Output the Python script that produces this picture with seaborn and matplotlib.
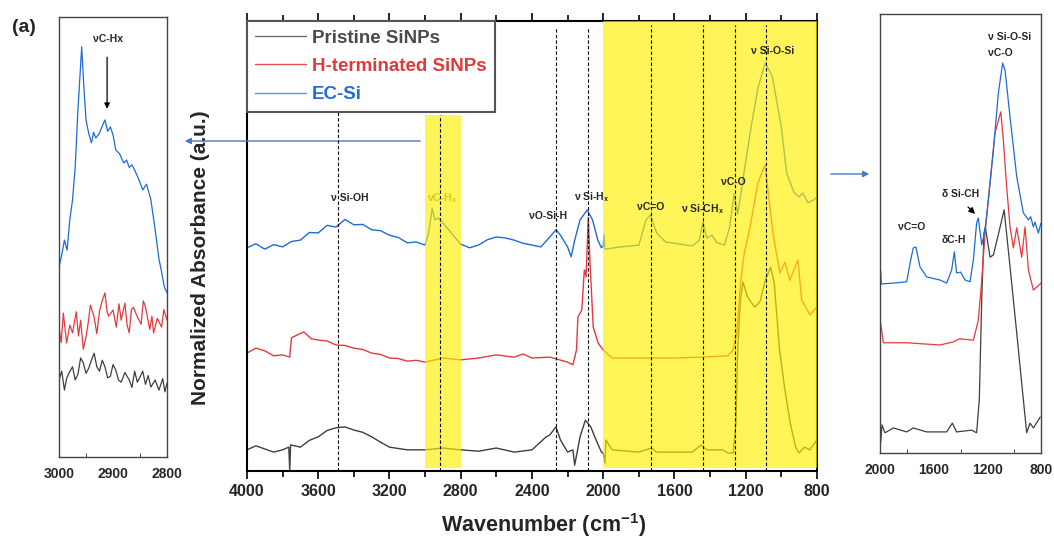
import pandas as pd
import numpy as np
import matplotlib.pyplot as plt
import seaborn as sns
from matplotlib.lines import Line2D
from matplotlib.ticker import MultipleLocator

# ---------------- data (arbitrary units) ----------------
samples = ["Pristine SiNPs", "H-terminated SiNPs", "EC-Si"]
line_colors = ["#3f3f3f", "#e8383d", "#1c6bdc"]
legend_line_colors = ["#6e6e6e", "#e05050", "#5b9bd5"]
text_colors = ["#4a4a4a", "#e03a3a", "#1f6fd6"]

# main panel, 4000-800 cm-1
main_wn_ec = [4000, 3950, 3900, 3850, 3800, 3750, 3700, 3650, 3600, 3550, 3500, 3450, 3400,
              3350, 3300, 3250, 3200, 3150, 3100, 3050, 3000, 2980,
              2960, 2945, 2925, 2880, 2830, 2800, 2750, 2700, 2650, 2600, 2550, 2500, 2450,
              2400, 2350, 2300, 2265,
              2240, 2200, 2180, 2160, 2130, 2090, 2060, 2030, 2010, 2000, 1995, 1990, 1900,
              1800, 1760, 1735, 1700, 1650, 1500, 1460, 1440, 1420, 1390, 1360, 1320, 1290,
              1265, 1245, 1210, 1170, 1130, 1090, 1050, 1000, 970, 930, 900, 880, 850, 820, 800]
main_ec = [49.6, 50.5, 49.3, 50.3, 49.8, 51.0, 51.3, 53.0, 52.9, 54.6, 54.2, 55.9, 54.7,
           54.8, 53.6, 53.4, 52.4, 51.9, 50.7, 50.9, 50.2, 52.9,
           58.4, 55.8, 56.2, 54.2, 51.8, 50.4, 49.6, 50.2, 51.4, 52.0, 51.8, 51.3, 50.6,
           50.2, 49.8, 52.0, 53.6,
           52.4, 49.8, 47.6, 51.3, 55.8, 58.0, 55.8, 51.3, 49.6, 50.0, 52.5, 49.3, 49.8,
           50.2, 55.8, 56.9, 52.9, 50.9, 50.0, 51.3, 55.3, 51.8, 52.4, 50.7, 50.2, 54.2,
           61.6, 57.1, 66.2, 76.4, 85.3, 90.7, 87.6, 76.4, 66.2, 62.0, 60.9, 61.8, 59.6, 60.2, 60.9]

main_wn_h = [4000, 3950, 3900, 3850, 3800, 3760, 3750, 3720, 3680, 3640, 3600, 3550, 3500,
             3450, 3400, 3350, 3300, 3250, 3200, 3150, 3100, 3050, 3000,
             2900, 2800, 2700, 2600, 2500, 2450, 2400, 2300, 2200, 2170, 2150, 2142, 2120,
             2106, 2096, 2084, 2074, 2056, 2028, 2000, 1950, 1800, 1600, 1450, 1300, 1270,
             1250, 1230, 1210, 1176, 1131, 1092, 1047, 1008, 980, 952, 907, 886, 839, 802]
main_h = [26.2, 27.3, 26.7, 25.6, 25.8, 25.3, 29.6, 30.2, 30.9, 29.4, 29.1, 28.9, 28.0,
          27.9, 27.3, 27.0, 26.2, 25.9, 25.1, 25.0, 24.4, 24.6, 24.2,
          25.1, 24.7, 25.1, 25.8, 25.3, 26.0, 25.1, 25.3, 24.2, 23.6, 26.9, 34.2, 35.8,
          44.7, 43.1, 56.4, 46.2, 32.0, 28.4, 26.9, 25.1, 25.1, 25.1, 25.3, 25.6, 26.9,
          30.7, 41.3, 48.0, 54.2, 64.0, 68.0, 52.9, 44.0, 46.4, 42.4, 46.9, 38.0, 34.7, 36.4]

main_wn_pr = [4000, 3950, 3900, 3850, 3800, 3765, 3760, 3755, 3700, 3650, 3600, 3550, 3500,
              3450, 3400, 3350, 3300, 3250, 3200,
              3100, 3000, 2900, 2800, 2700, 2600, 2500, 2400, 2320, 2300, 2265, 2240, 2200,
              2170, 2160, 2130, 2100, 2070, 2040, 2010, 2000, 1990, 1985, 1950, 1800, 1730,
              1700, 1500, 1450, 1420, 1330, 1300, 1270, 1255, 1245, 1230, 1215, 1190, 1150,
              1120, 1090, 1060, 1040, 1010, 980, 950, 920, 900, 870, 840, 800]
main_pr = [4.7, 5.6, 4.9, 4.2, 4.7, 5.3, 0.2, 5.8, 5.3, 6.8, 7.6, 9.0, 9.6,
           9.8, 9.1, 8.6, 7.6, 6.4, 5.3,
           4.7, 4.7, 5.1, 4.7, 4.4, 5.1, 4.2, 4.7, 7.6, 8.0, 9.8, 6.9, 4.2,
           4.7, 1.3, 7.6, 11.3, 9.8, 6.9, 4.2, 4.0, 1.8, 6.9, 4.7, 4.2, 5.1,
           4.2, 4.2, 5.8, 4.7, 4.7, 4.0, 4.0, 10.7, 26.9, 38.0, 42.0, 38.7, 36.4,
           37.6, 42.4, 45.3, 41.8, 26.9, 18.0, 10.7, 5.3, 4.0, 5.3, 4.7, 6.9]

# left inset, 3000-2800 cm-1
left_wn_ec = [3000, 2995, 2990, 2985, 2980, 2975, 2970, 2965, 2958, 2954, 2950, 2945, 2940,
              2936, 2932, 2925, 2920, 2915, 2910, 2905, 2900, 2895, 2888, 2880, 2875, 2870,
              2865, 2860, 2852, 2845, 2838, 2830, 2822, 2815, 2810, 2805, 2800]
left_ec = [43.2, 45.9, 49.3, 47.0, 54.0, 58.4, 66.0, 78.9, 93.2, 84.0, 76.6, 73.5, 71.4,
           73.8, 72.5, 73.6, 75.2, 76.6, 74.0, 75.0, 73.2, 69.8, 68.9, 66.8, 67.5, 65.8,
           66.4, 65.2, 63.0, 60.7, 62.0, 58.5, 51.6, 45.0, 42.0, 38.6, 37.3]
left_wn_h = [3000, 2996, 2992, 2986, 2980, 2975, 2968, 2964, 2960, 2955, 2950, 2946, 2942,
             2935, 2930, 2925, 2920, 2915, 2911, 2908, 2900, 2894, 2889, 2885, 2878, 2874,
             2870, 2866, 2862, 2855, 2848, 2844, 2840, 2832, 2828, 2825, 2818, 2810, 2806, 2800]
left_h = [29.5, 26.0, 32.7, 25.9, 30.0, 28.2, 33.0, 27.5, 31.1, 24.5, 27.3, 30.5, 34.5,
          31.8, 28.0, 33.2, 35.5, 37.3, 33.0, 32.0, 33.4, 29.5, 34.8, 31.1, 35.0, 30.0,
          28.2, 33.5, 34.0, 31.8, 30.2, 35.5, 34.1, 29.0, 32.0, 28.2, 31.5, 29.5, 33.5, 31.1]
left_wn_pr = [3000, 2995, 2990, 2986, 2982, 2975, 2970, 2965, 2960, 2955, 2950, 2945, 2940,
              2935, 2930, 2925, 2920, 2915, 2910, 2905, 2900, 2895, 2890, 2885, 2878, 2870,
              2865, 2860, 2855, 2850, 2845, 2840, 2835, 2830, 2822, 2815, 2808, 2804, 2800]
left_pr = [17.5, 19.5, 15.2, 17.8, 19.0, 20.5, 17.5, 18.8, 22.5, 21.4, 19.0, 20.2, 22.0,
           23.6, 20.5, 19.5, 22.0, 20.5, 18.0, 18.3, 21.0, 19.8, 17.5, 17.0, 19.2, 17.5,
           15.8, 19.5, 17.0, 18.2, 19.5, 16.5, 18.5, 15.9, 17.5, 15.2, 17.8, 14.8, 16.8]

# right inset, 2000-800 cm-1
right_wn_ec = [2000, 1995, 1990, 1900, 1801, 1771, 1752, 1732, 1702, 1652, 1553, 1503, 1466,
               1446, 1429, 1399, 1366, 1329, 1304, 1280, 1267, 1242, 1217, 1193, 1155, 1118,
               1086, 1068, 1031, 981, 932, 894, 877, 857, 845, 820, 800]
right_ec = [38.7, 41.7, 38.5, 38.7, 39.0, 44.0, 46.7, 46.9, 42.4, 40.1, 39.4, 38.7, 41.7,
            45.8, 41.0, 41.2, 39.4, 39.0, 44.0, 52.4, 53.5, 47.4, 50.8, 57.6, 69.0, 82.0,
            88.8, 87.2, 76.5, 62.9, 54.7, 53.1, 53.8, 51.5, 52.6, 50.1, 52.4]
right_wn_h = [2000, 1995, 1975, 1801, 1553, 1453, 1409, 1304, 1267, 1242, 1217, 1180, 1143,
              1100, 1081, 1056, 1031, 1006, 981, 944, 919, 894, 857, 832, 800]
right_h = [28.0, 29.6, 25.1, 25.1, 24.6, 25.3, 26.0, 25.7, 30.3, 39.4, 50.1, 61.5, 72.9,
           77.7, 71.3, 60.6, 51.5, 46.7, 51.3, 44.6, 51.5, 41.7, 37.1, 37.8, 38.7]
right_wn_pr = [2000, 1995, 1985, 1963, 1900, 1801, 1752, 1652, 1503, 1461, 1429, 1317, 1280,
               1260, 1242, 1225, 1215, 1180, 1155, 1110, 1075, 1031, 981, 944, 907, 882, 857, 806]
right_pr = [5.2, 2.3, 6.4, 4.6, 5.7, 4.8, 5.7, 4.8, 4.8, 6.8, 4.8, 5.2, 4.6,
            12.1, 34.9, 50.1, 51.5, 44.6, 45.1, 50.8, 55.4, 42.4, 27.3, 15.9, 4.6, 6.8, 5.7, 8.2]

# band positions (cm-1) in the main panel, with the top of each dashed line
band_wn = [3490, 2915, 2265, 2088, 1730, 1438, 1260, 1086]
band_top = [0.798, 0.79, 0.984, 0.984, 0.99, 0.99, 0.99, 0.99]


def long_df(wns, vals):
    frames = []
    for s, w, v in zip(samples, wns, vals):
        frames.append(pd.DataFrame({"wn": w, "absorbance": v, "sample": s}))
    return pd.concat(frames, ignore_index=True)


main_df = long_df([main_wn_pr, main_wn_h, main_wn_ec], [main_pr, main_h, main_ec])
left_df = long_df([left_wn_pr, left_wn_h, left_wn_ec], [left_pr, left_h, left_ec])
right_df = long_df([right_wn_pr, right_wn_h, right_wn_ec], [right_pr, right_h, right_ec])
palette = dict(zip(samples, line_colors))

# ---------------- style ----------------
sns.set_style("white")
plt.rcParams['font.family'] = ['Liberation Sans', 'DejaVu Sans']
plt.rcParams['font.weight'] = 'bold'
plt.rcParams['mathtext.fontset'] = 'custom'
plt.rcParams['mathtext.rm'] = 'Liberation Sans'
plt.rcParams['mathtext.bf'] = 'Liberation Sans:bold'
plt.rcParams['mathtext.default'] = 'bf'

fig = plt.figure(figsize=(10.54, 5.41), dpi=100)
ax = fig.add_axes([0.2343, 0.1294, 0.5408, 0.8318])
axl = fig.add_axes([0.056, 0.1553, 0.1025, 0.8133])
axr = fig.add_axes([0.8349, 0.1627, 0.1528, 0.8115])

yellow = "#fff000"

# ---------------- main panel ----------------
sns.lineplot(data=main_df, x="wn", y="absorbance", hue="sample", palette=palette,
             estimator=None, sort=False, lw=1.0, legend=False, ax=ax, zorder=2)
ax.set_xlim(4000, 800)
ax.set_ylim(0, 100)
ax.set_yticks([])
ax.xaxis.set_major_locator(MultipleLocator(400))
ax.xaxis.set_minor_locator(MultipleLocator(200))
ax.tick_params(axis='x', which='both', bottom=True, top=True, direction='out',
               labelsize=11.5, width=1.2, color='black')
ax.tick_params(axis='x', which='major', length=6)
ax.tick_params(axis='x', which='minor', length=4)
for sp in ax.spines.values():
    sp.set_color('black')
    sp.set_linewidth(1.5)
ax.set_xlabel("Wavenumber (cm$^{-1}$)", fontsize=15.5, fontweight='bold')
ax.xaxis.set_label_coords(0.52, -0.09)
ax.set_ylabel("Normalized Absorbance (a.u.)", fontsize=15, fontweight='bold')
ax.yaxis.set_label_coords(-0.065, 0.475)

# highlighted regions (drawn over the spectra, like in the figure)
ax.axvspan(3000, 2800, ymin=0.007, ymax=0.79, color=yellow, alpha=0.65, lw=0, zorder=3)
ax.axvspan(2000, 800, ymin=0.007, ymax=1.0, color=yellow, alpha=0.65, lw=0, zorder=3)

for w, top in zip(band_wn, band_top):
    ax.axvline(w, ymin=0, ymax=top, color='black', ls=(0, (3, 2)), lw=0.8, zorder=4)

lab_kw = dict(fontsize=7.5, fontweight='bold', ha='center', va='center', zorder=5)
ax.text(3422, 60.7, "ν Si-OH", **lab_kw)
ax.text(2905, 60.7, "νC-H$_x$", color='#8a8a4a', **dict(lab_kw, zorder=2))
ax.text(2310, 56.7, "νO-Si-H", **lab_kw)
ax.text(2063, 60.9, "ν Si-H$_x$", **lab_kw)
ax.text(1732, 58.7, "νC=O", **lab_kw)
ax.text(1440, 58.2, "ν Si-CH$_x$", **lab_kw)
ax.text(1272, 64.2, "νC-O", **lab_kw)
ax.text(1050, 93.3, "ν Si-O-Si", **lab_kw)

handles = [Line2D([], [], color=c, lw=1) for c in legend_line_colors]
leg = ax.legend(handles, samples, loc='upper left', bbox_to_anchor=(0, 1),
                borderaxespad=0, handlelength=2.7, handletextpad=0.3,
                labelspacing=0.6, borderpad=0.45, fancybox=False, framealpha=1,
                edgecolor='#555555', prop={'weight': 'bold', 'size': 13.5})
leg.get_frame().set_linewidth(1.5)
leg.set_zorder(6)
for t, c in zip(leg.get_texts(), text_colors):
    t.set_color(c)

# ---------------- left inset ----------------
sns.lineplot(data=left_df, x="wn", y="absorbance", hue="sample", palette=palette,
             estimator=None, sort=False, lw=0.9, legend=False, ax=axl)
axl.set_xlim(3000, 2800)
axl.set_ylim(0, 100)
axl.set_yticks([])
axl.set_xticks([3000, 2900, 2800])
axl.xaxis.set_minor_locator(MultipleLocator(50))
axl.tick_params(axis='x', which='major', direction='out', length=4, labelsize=10)
axl.tick_params(axis='x', which='minor', direction='in', length=3, bottom=True)
axl.set_xlabel("")
axl.set_ylabel("")
for sp in axl.spines.values():
    sp.set_color('#444444')
    sp.set_linewidth(1)
axl.text(2910, 95, "νC-Hx", fontsize=7.5, fontweight='bold', ha='center', va='center')
axl.annotate("", xy=(2911, 78.5), xytext=(2911, 91.5),
             arrowprops=dict(arrowstyle='-|>', color='black', lw=0.9, mutation_scale=8))

# ---------------- right inset ----------------
sns.lineplot(data=right_df, x="wn", y="absorbance", hue="sample", palette=palette,
             estimator=None, sort=False, lw=0.9, legend=False, ax=axr)
axr.set_xlim(2000, 800)
axr.set_ylim(0, 100)
axr.set_yticks([])
axr.set_xticks([2000, 1600, 1200, 800])
axr.xaxis.set_minor_locator(MultipleLocator(200))
axr.tick_params(axis='x', which='major', direction='out', length=4, labelsize=10)
axr.tick_params(axis='x', which='minor', direction='in', length=3, bottom=True)
axr.set_xlabel("")
axr.set_ylabel("")
for sp in axr.spines.values():
    sp.set_color('#444444')
    sp.set_linewidth(1)
rk = dict(fontsize=7.5, fontweight='bold', ha='left', va='center')
axr.text(1195, 94.8, "ν Si-O-Si", **rk)
axr.text(1195, 91.2, "νC-O", **rk)
axr.text(1538, 59.0, "δ Si-CH", **rk)
axr.text(1866, 51.5, "νC=O", **rk)
axr.text(1538, 48.5, "δC-H", **rk)
axr.annotate("", xy=(1277, 54.0), xytext=(1359, 56.5),
             arrowprops=dict(arrowstyle='-|>', color='black', lw=0.9, mutation_scale=9))

# ---------------- connecting arrows and panel label ----------------
fig_arrow = dict(arrowstyle='-|>', color='#4a78c8', lw=1, mutation_scale=9)
ax.annotate("", xy=(182 / 1054, 1 - 141 / 541), xytext=(423 / 1054, 1 - 141 / 541),
            xycoords='figure fraction', textcoords='figure fraction',
            arrowprops=fig_arrow, annotation_clip=False)
ax.annotate("", xy=(872 / 1054, 1 - 174 / 541), xytext=(828 / 1054, 1 - 174 / 541),
            xycoords='figure fraction', textcoords='figure fraction',
            arrowprops=fig_arrow, annotation_clip=False)
fig.text(12 / 1054, 1 - 27 / 541, "(a)", fontsize=14, fontweight='bold', va='center')

fig.savefig("out.png", dpi=100)
